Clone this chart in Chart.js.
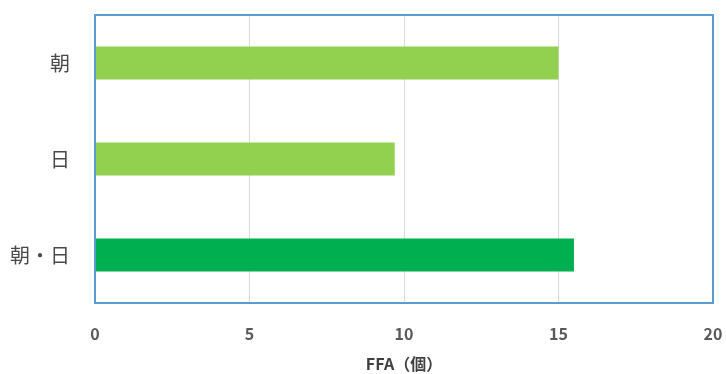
<!DOCTYPE html>
<html>
<head>
<meta charset="utf-8">
<script src="https://cdn.jsdelivr.net/npm/chart.js@4/dist/chart.umd.min.js"></script>
<style>
  html, body { margin: 0; padding: 0; background: #fff; }
  #wrap { width: 726px; height: 374px; }
</style>
</head>
<body>
<div id="wrap"><canvas id="c" width="726" height="374"></canvas></div>
<script>
// Categories and FFA counts
const categories = ['朝', '日', '朝・日'];
const ffaValues = [15.0, 9.7, 15.5];
const barColors = ['#92D050', '#92D050', '#00B050'];
const xTicks = [0, 5, 10, 15, 20];
const xTitle = 'FFA（個）';

const FONT = "'Noto Sans CJK JP', 'Noto Sans', sans-serif";

// Blue frame around the plot area
const frame = {
  id: 'frame',
  afterDraw(chart) {
    const { ctx, chartArea: a } = chart;
    ctx.save();
    ctx.strokeStyle = '#5B9BD5';
    ctx.lineWidth = 2;
    ctx.strokeRect(a.left, a.top, a.right - a.left, a.bottom - a.top);
    ctx.restore();
  }
};

new Chart(document.getElementById('c'), {
  type: 'bar',
  data: {
    labels: categories,
    datasets: [{
      data: ffaValues,
      backgroundColor: barColors,
      borderWidth: 0,
      barPercentage: 0.69,
      categoryPercentage: 0.5
    }]
  },
  options: {
    indexAxis: 'y',
    responsive: false,
    animation: false,
    layout: { padding: { top: 15, right: 13, left: 0, bottom: 0 } },
    plugins: { legend: { display: false }, tooltip: { enabled: false } },
    scales: {
      x: {
        min: 0, max: 20,
        afterBuildTicks(s) { s.ticks = xTicks.map(v => ({ value: v })); },
        grid: { color: '#D9D9D9', lineWidth: 1, drawTicks: false },
        border: { display: false },
        ticks: { color: '#595959', font: { family: FONT, size: 16, weight: 'bold' }, padding: 21 },
        title: { display: true, text: xTitle, color: '#404040', font: { family: FONT, size: 16, weight: 'bold' }, padding: { top: 2, bottom: 0 } },
        afterFit(s) { s.height = 71; s.paddingLeft = 0; s.paddingRight = 0; }
      },
      y: {
        grid: { display: false, drawTicks: false },
        border: { display: false },
        ticks: { color: '#4A4A4A', font: { family: FONT, size: 20 }, padding: 25 },
        afterFit(s) { s.width = 95; s.paddingTop = 0; s.paddingBottom = 0; }
      }
    }
  },
  plugins: [frame]
});
</script>
</body>
</html>
